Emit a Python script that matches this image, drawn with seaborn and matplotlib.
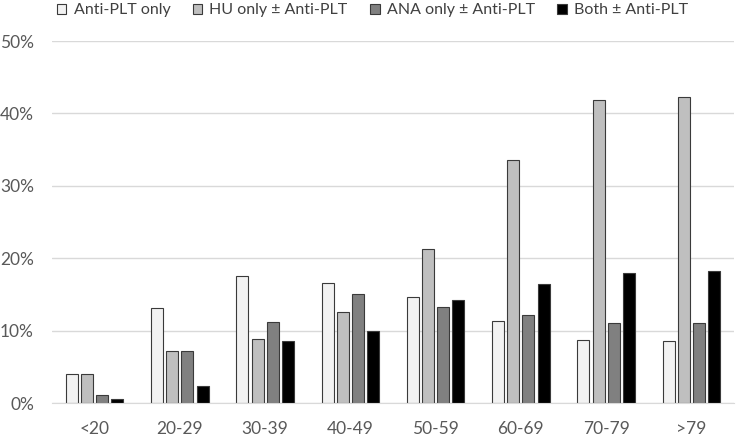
import matplotlib
matplotlib.use("Agg")
import matplotlib.pyplot as plt
import seaborn as sns
import pandas as pd
from matplotlib.ticker import PercentFormatter

# values (percent of patients)
age_groups = ['<20', '20-29', '30-39', '40-49', '50-59', '60-69', '70-79', '>79']
series = ['Anti-PLT only', 'HU only ± Anti-PLT', 'ANA only ± Anti-PLT', 'Both ± Anti-PLT']
anti_plt = [4.0, 13.1, 17.5, 16.6, 14.7, 11.3, 8.7, 8.5]
hu_only = [4.0, 7.2, 8.9, 12.6, 21.3, 33.6, 41.9, 42.3]
ana_only = [1.1, 7.2, 11.2, 15.0, 13.2, 12.2, 11.1, 11.0]
both = [0.6, 2.4, 8.5, 10.0, 14.2, 16.5, 18.0, 18.2]
colors = ['#f2f2f2', '#bfbfbf', '#808080', '#000000']

rows = []
for name, vals in zip(series, [anti_plt, hu_only, ana_only, both]):
    for g, v in zip(age_groups, vals):
        rows.append({'Age': g, 'Group': name, 'Pct': v})
df = pd.DataFrame(rows)

sns.set_style('white')
plt.rcParams['font.family'] = ['Lato', 'DejaVu Sans']

fig = plt.figure(figsize=(7.37, 4.37), dpi=100)
ax = fig.add_axes([52 / 737, 1 - 403 / 437, 682 / 737, 362 / 437])

sns.barplot(data=df, x='Age', y='Pct', hue='Group', order=age_groups,
            hue_order=series, palette=colors, width=0.71, gap=0.2,
            edgecolor='#3a3a3a', linewidth=0.8, ax=ax, errorbar=None)

ax.set_ylim(0, 50)
ax.set_yticks(range(0, 51, 10))
ax.yaxis.set_major_formatter(PercentFormatter(decimals=0))
ax.grid(axis='y', color='#d9d9d9', linewidth=1)
ax.set_axisbelow(True)
for s in ['top', 'right', 'left']:
    ax.spines[s].set_visible(False)
ax.spines['bottom'].set_color('#d9d9d9')
ax.tick_params(axis='both', length=0, labelsize=12.5, colors='#595959')
ax.tick_params(axis='y', pad=13)
ax.tick_params(axis='x', pad=13)
ax.set_xlabel('')
ax.set_ylabel('')

ax.legend(loc='center', bbox_to_anchor=(0.47, 1.085), ncol=4, frameon=False,
          fontsize=11.5, handlelength=0.6, handleheight=0.6, handletextpad=0.45,
          columnspacing=1.4, labelcolor='#404040')

fig.savefig('out.png', dpi=100)
